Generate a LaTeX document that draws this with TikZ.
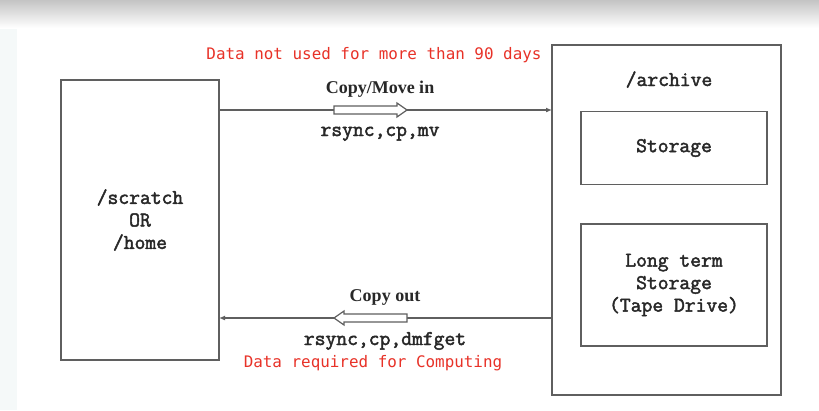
\documentclass[tikz,border=0pt]{standalone}
\usepackage{fontspec}
\usetikzlibrary{arrows.meta}
\setmainfont{Liberation Serif}
\newfontfamily\monobox{Latin Modern Mono}[FakeBold=2.2]
\newfontfamily\redmono{DejaVu Sans Mono}
\definecolor{edgegray}{RGB}{95,95,95}
\definecolor{txtgray}{RGB}{40,40,40}
\definecolor{notered}{RGB}{232,50,40}
\definecolor{stripcol}{RGB}{245,249,249}
\definecolor{topgray}{RGB}{196,196,196}
\tikzset{
  boxstyle/.style={draw=edgegray, line width=1.5pt, rectangle, inner sep=0pt, outer sep=0pt,
    align=center, text=txtgray, font=\monobox\fontsize{21}{22.5}\selectfont},
  cmdtext/.style={anchor=base, text=txtgray, inner sep=0pt, font=\monobox\fontsize{21}{22.5}\selectfont},
  titletext/.style={anchor=base, text=txtgray, inner sep=0pt, font=\bfseries\fontsize{18}{22}\selectfont},
  redtext/.style={anchor=base, text=notered, inner sep=0pt, font=\redmono\fontsize{15.9}{18}\selectfont},
  conn/.style={draw=edgegray, line width=1.3pt, -{Latex[length=6pt,width=5pt]}},
  hollow/.style={draw=edgegray, line width=1.2pt, fill=white, line join=miter}
}
\begin{document}
\begin{tikzpicture}[x=1pt,y=-1pt]
\useasboundingbox (0,0) rectangle (819,410);
\fill[white] (0,0) rectangle (819,410);
\fill[stripcol] (0,0) rectangle (17,410);
\shade[top color=topgray, bottom color=white] (0,0) rectangle (819,28);

% boxes
\node[boxstyle, minimum width=158pt, minimum height=280pt] (scratch) at (140,220) {/scratch\\OR\\/home};
\node[boxstyle, minimum width=229pt, minimum height=350pt] (archive) at (666.5,220) {};
\node[cmdtext] (archlabel) at (669,86) {/archive};
\node[boxstyle, minimum width=186pt, minimum height=73pt] (storage) at (674,148) {Storage};
\node[boxstyle, minimum width=186pt, minimum height=122pt] (tape) at (674,285) {Long term\\Storage\\(Tape Drive)};

% connectors
\coordinate (ytop) at (0,110);
\coordinate (ybot) at (0,318);
\draw[conn] (scratch.east |- ytop) -- (archive.west |- ytop);
\draw[conn] (archive.west |- ybot) -- (scratch.east |- ybot);

% hollow arrows
\draw[hollow] (334,106) -- (397,106) -- (397,103) -- (407,110) -- (397,117) -- (397,114) -- (334,114) -- cycle;
\draw[hollow] (407,314) -- (344,314) -- (344,311) -- (334,318) -- (344,325) -- (344,322) -- (407,322) -- cycle;

% labels
\node[redtext] (note1) at (374,59) {Data not used for more than 90 days};
\node[titletext] (copyin) at (380,93) {Copy/Move in};
\node[cmdtext] (cmdin) at (380,136) {rsync,cp,mv};
\node[titletext] (copyout) at (385,301) {Copy out};
\node[cmdtext] (cmdout) at (385,345) {rsync,cp,dmfget};
\node[redtext] (note2) at (373,367) {Data required for Computing};
\end{tikzpicture}
\end{document}
